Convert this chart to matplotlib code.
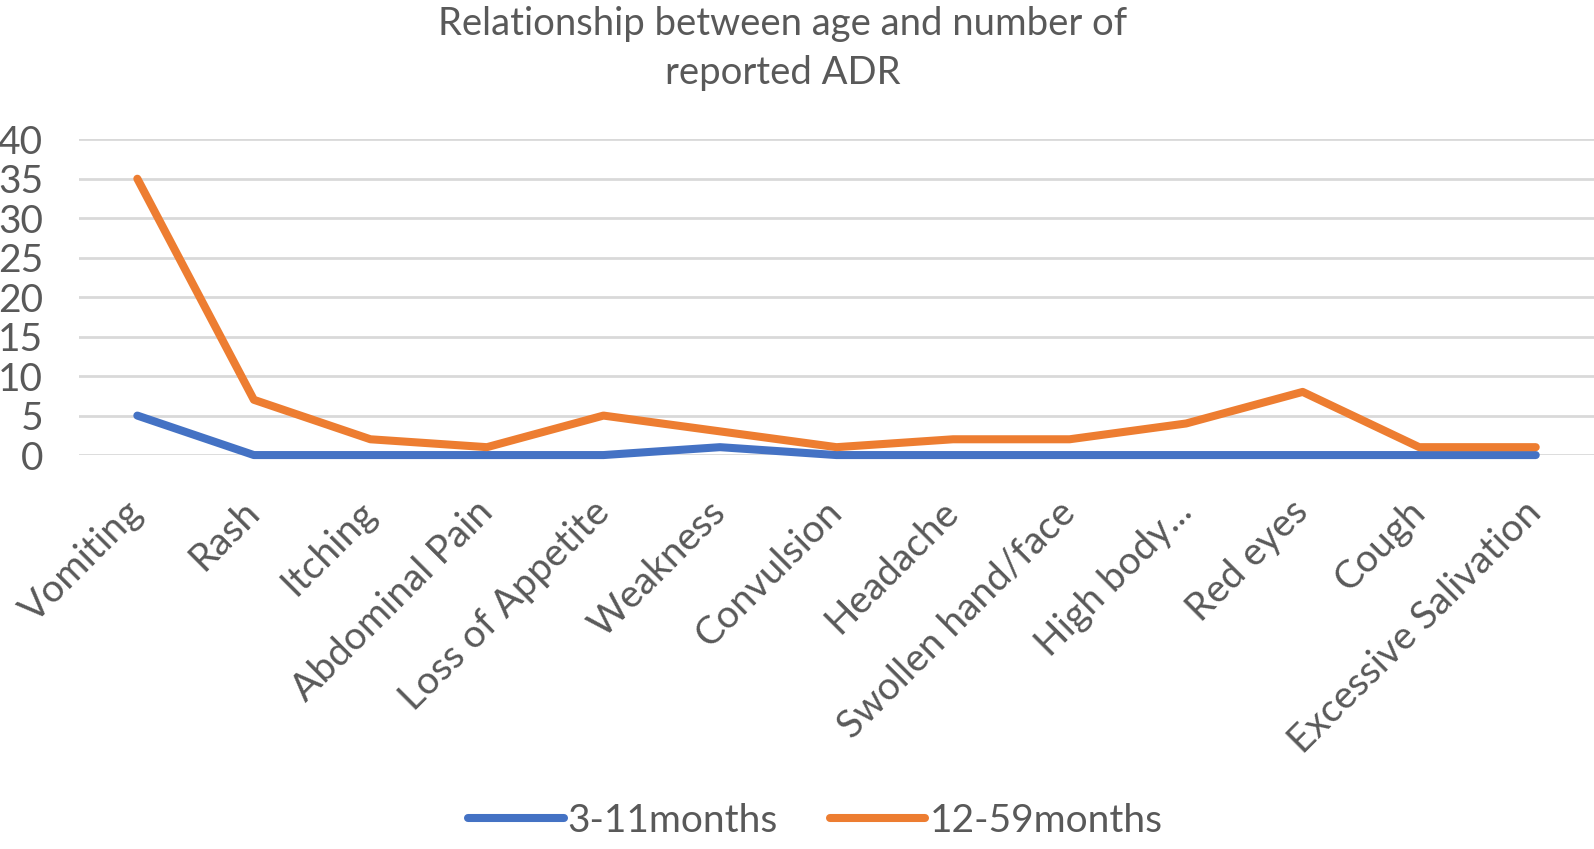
import matplotlib.pyplot as plt

categories = ['Vomiting', 'Rash', 'Itching', 'Abdominal Pain', 'Loss of Appetite',
              'Weakness', 'Convulsion', 'Headache', 'Swollen hand/face', 'High body...',
              'Red eyes', 'Cough', 'Excessive Salivation']
infants = [5, 0, 0, 0, 0, 1, 0, 0, 0, 0, 0, 0, 0]
children = [35, 7, 2, 1, 5, 3, 1, 2, 2, 4, 8, 1, 1]
yticks = [0, 5, 10, 15, 20, 25, 30, 35, 40]

plt.rcParams['font.family'] = ['Lato', 'DejaVu Sans']
grey = '#595959'

fig = plt.figure(figsize=(15.94, 8.49), dpi=100)
ax = fig.add_axes([0.0496, 0.464, 0.9504, 0.372])

x = list(range(len(categories)))
ax.plot(x, infants, color='#4472C4', lw=5.8, solid_capstyle='round',
        label='3-11months', zorder=3, clip_on=False)
ax.plot(x, children, color='#ED7D31', lw=5.8, solid_capstyle='round',
        label='12-59months', zorder=4, clip_on=False)

ax.set_xlim(-0.5, len(categories) - 0.5)
ax.set_ylim(0, 40)
ax.set_yticks(yticks)
ax.yaxis.grid(True, color='#D9D9D9', lw=2)
ax.set_axisbelow(True)
for s in ax.spines.values():
    s.set_visible(False)
ax.tick_params(axis='both', length=0, labelsize=28, labelcolor=grey)
ax.tick_params(axis='y', pad=26)
ax.set_xticks(x)
ax.set_xticklabels(categories, rotation=45, ha='right', va='center',
                   rotation_mode='anchor')
ax.tick_params(axis='x', pad=37)

fig.text(0.491, 0.943, 'Relationship between age and number of\nreported ADR',
         ha='center', va='center', fontsize=27.5, color=grey, linespacing=1.45)

leg = fig.legend(loc='center', bbox_to_anchor=(0.5115, 0.033), ncol=2, frameon=False,
                 fontsize=28, handlelength=2.45, handletextpad=0.1, columnspacing=1.35)
for t in leg.get_texts():
    t.set_color(grey)

fig.savefig('out.png', dpi=100)
